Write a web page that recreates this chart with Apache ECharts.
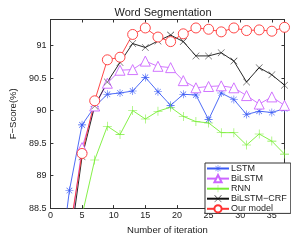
<!DOCTYPE html>
<html><head><meta charset="utf-8">
<script src="https://cdn.jsdelivr.net/npm/echarts@6/dist/echarts.min.js"></script>
<style>html,body{margin:0;padding:0;background:#fff}#c{width:291px;height:240px}</style>
</head><body><div id="c"></div>
<script>
var iterLSTM = [1,3,5,7,9,11,13,15,17,19,21,23,25,27,29,31,33,35,37];
var lstm     = [87.23,88.77,89.78,90.06,90.25,90.27,90.30,90.51,90.29,90.08,90.25,90.24,89.86,90.27,90.17,89.94,89.99,89.97,90.03];
var iterOther = [3,5,7,9,11,13,15,17,19,21,23,25,27,29,31,33,35,37];
var bilstm   = [88.00,89.43,90.07,90.42,90.62,90.63,90.76,90.68,90.66,90.46,90.35,90.37,90.38,90.35,90.23,90.10,90.21,90.08];
var rnn      = [87.50,88.39,89.24,89.76,89.63,90.00,89.87,89.99,90.05,89.91,89.83,89.81,89.66,89.66,89.47,89.64,89.53,89.33];
var crf      = [87.88,89.29,90.07,90.44,90.74,91.03,90.97,91.07,91.16,91.06,90.84,90.84,90.89,90.76,90.44,90.66,90.55,90.39];
var ours     = [88.12,89.34,90.15,90.78,90.82,91.17,91.27,91.13,91.06,91.18,91.27,91.25,91.21,91.27,91.23,91.24,91.22,91.28];
var xTicks = [0,5,10,15,20,25,30,35];
var yTicks = [88.5,89,89.5,90,90.5,91];

function pairs(xs, ys){ return xs.map(function(x,i){ return [x, ys[i]]; }); }

var star = 'path://M-0.7,-10L0.7,-10L0.7,10L-0.7,10Z M-10,-0.7L10,-0.7L10,0.7L-10,0.7Z M-7.6,-6.6L-6.6,-7.6L7.6,6.6L6.6,7.6Z M6.6,-7.6L7.6,-6.6L-6.6,7.6L-7.6,6.6Z';
var plus = 'path://M-0.6,-10L0.6,-10L0.6,10L-0.6,10Z M-10,-0.6L10,-0.6L10,0.6L-10,0.6Z';
var cross = 'path://M-10,-9.2L-9.2,-10L10,9.2L9.2,10Z M9.2,-10L10,-9.2L-9.2,10L-10,9.2Z';

var font = 'Liberation Sans, Arial, sans-serif';
var cBlue = '#3b5bf5', cMag = '#cc66ff', cGreen = '#77ee33', cBlack = '#111111', cRed = '#ff3333';

function ser(name, xs, ys, color, symbol, size, empty){
  return {
    name: name, type: 'line', data: pairs(xs, ys), clip: true,
    symbol: symbol, symbolSize: size, showAllSymbol: true,
    lineStyle: {color: color, width: 0.9},
    itemStyle: empty ? {color: '#ffffff', borderColor: color, borderWidth: 0.9} : {color: color, borderWidth: 0},
    emphasis: {disabled: true}, animation: false
  };
}

var chart = echarts.init(document.getElementById('c'), null, {renderer: 'canvas'});
var axisCommon = {
  axisLine: {show: true, onZero: false, lineStyle: {color: '#333', width: 1}},
  axisTick: {show: true, inside: true, length: 3, lineStyle: {color: '#333'}},
  splitLine: {show: false}
};
chart.setOption({
  animation: false,
  title: {text: 'Word Segmentation', left: 158, top: 2, textAlign: 'center',
    textStyle: {fontFamily: font, fontSize: 11, fontWeight: 'normal', color: '#222'}},
  grid: {left: 33, right: 6.5, top: 19.5, bottom: 22.5, containLabel: false},
  legend: {
    orient: 'vertical', left: 205, top: 163, padding: [1, 4, 0, 1], itemGap: 1,
    itemWidth: 22, itemHeight: 9, backgroundColor: '#fff',
    borderColor: '#333', borderWidth: 1, borderRadius: 0,
    textStyle: {fontFamily: font, fontSize: 9, color: '#222', padding: [0,0,0,-3]},
    data: ['LSTM','BiLSTM','RNN','BiLSTM−CRF','Our model']
  },
  xAxis: [
    Object.assign({type: 'value', min: 0, max: 37, interval: 5, position: 'bottom',
      name: 'Number of iteration', nameLocation: 'middle', nameGap: 14,
      nameTextStyle: {fontFamily: font, fontSize: 9.5, color: '#222'},
      axisLabel: {fontFamily: font, fontSize: 9, color: '#222', margin: 3, showMaxLabel: false,
        formatter: function(v){ return xTicks.indexOf(v) >= 0 ? String(v) : ''; }}}, axisCommon),
    Object.assign({type: 'value', min: 0, max: 37, interval: 5, position: 'top',
      axisLabel: {show: false}}, axisCommon)
  ],
  yAxis: [
    Object.assign({type: 'value', min: 88.5, max: 91.4, interval: 0.5, position: 'left',
      name: 'F−Score(%)', nameLocation: 'middle', nameGap: 26, nameRotate: 90,
      nameTextStyle: {fontFamily: font, fontSize: 9.5, color: '#222'},
      axisLabel: {fontFamily: font, fontSize: 9, color: '#222', margin: 4, showMaxLabel: false,
        formatter: function(v){ return yTicks.indexOf(v) >= 0 ? String(v) : ''; }}}, axisCommon),
    Object.assign({type: 'value', min: 88.5, max: 91.4, interval: 0.5, position: 'right',
      axisLabel: {show: false}}, axisCommon)
  ],
  series: [
    ser('LSTM', iterLSTM, lstm, cBlue, star, 8, false),
    ser('BiLSTM', iterOther, bilstm, cMag, 'triangle', 10, true),
    ser('RNN', iterOther, rnn, cGreen, plus, 9, false),
    ser('BiLSTM−CRF', iterOther, crf, cBlack, cross, 7, false),
    ser('Our model', iterOther, ours, cRed, 'circle', 10, true)
  ]
});
</script></body></html>
